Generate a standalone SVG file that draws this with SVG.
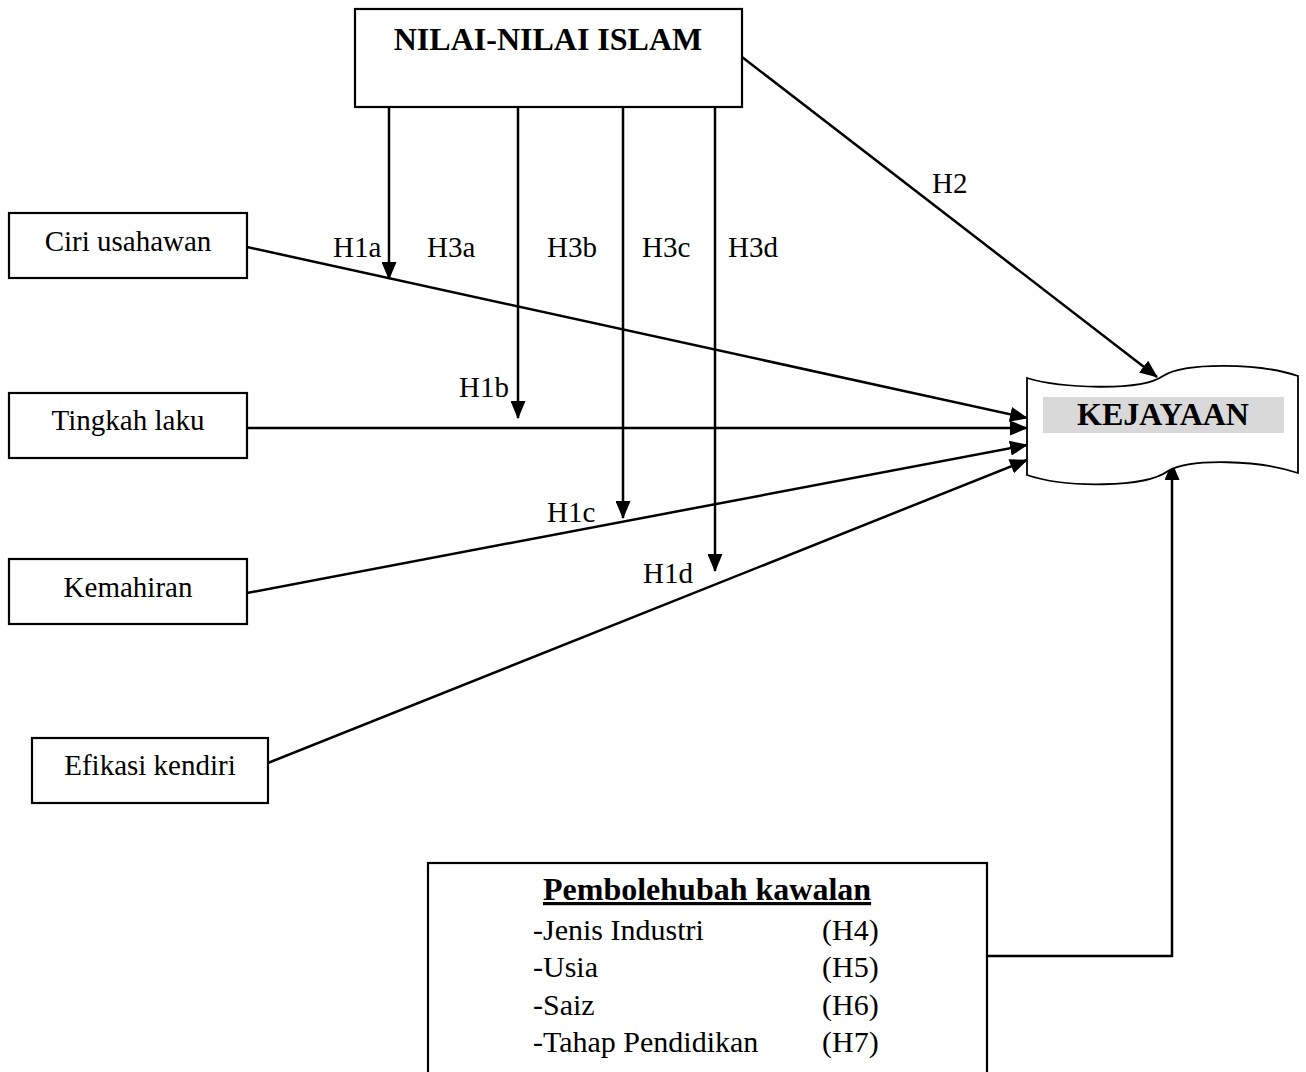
<svg xmlns="http://www.w3.org/2000/svg" width="1306" height="1072" viewBox="0 0 1306 1072">
<style>
.box{fill:#fff;stroke:#000;stroke-width:2.2}
.t{font-family:"Liberation Serif","Times New Roman",serif;font-size:29px;fill:#000}
.b{font-family:"Liberation Serif","Times New Roman",serif;font-size:32px;font-weight:bold;fill:#000}
.l{font-family:"Liberation Serif","Times New Roman",serif;font-size:30px;fill:#000}
.c{fill:none;stroke:#000;stroke-width:2.5}
</style>
<defs>
<marker id="ah" markerWidth="18" markerHeight="15" refX="17" refY="7.5" orient="auto" markerUnits="userSpaceOnUse">
<path d="M0,0 L18,7.5 L0,15 Z" fill="#000"/>
</marker>
</defs>
<rect width="1306" height="1072" fill="#fff"/>
<g id="connectors">
<line class="c" x1="247" y1="247" x2="1027" y2="418" marker-end="url(#ah)"/>
<line class="c" x1="247" y1="428" x2="1027" y2="428" marker-end="url(#ah)"/>
<line class="c" x1="247" y1="593" x2="1027" y2="445" marker-end="url(#ah)"/>
<line class="c" x1="268" y1="763" x2="1027" y2="460" marker-end="url(#ah)"/>
<line class="c" x1="742" y1="57" x2="1157" y2="377" marker-end="url(#ah)"/>
<line class="c" x1="389" y1="107" x2="389" y2="279" marker-end="url(#ah)"/>
<line class="c" x1="518" y1="107" x2="518" y2="418" marker-end="url(#ah)"/>
<line class="c" x1="623" y1="107" x2="623" y2="518" marker-end="url(#ah)"/>
<line class="c" x1="715" y1="107" x2="715" y2="571" marker-end="url(#ah)"/>
<polyline class="c" points="987,956 1172,956 1172,463" marker-end="url(#ah)"/>
<text class="t" x="333" y="257">H1a</text>
<text class="t" x="427" y="257">H3a</text>
<text class="t" x="547" y="257">H3b</text>
<text class="t" x="642" y="257">H3c</text>
<text class="t" x="728" y="257">H3d</text>
<text class="t" x="459" y="397">H1b</text>
<text class="t" x="547" y="522">H1c</text>
<text class="t" x="643" y="583">H1d</text>
<text class="t" x="932" y="193">H2</text>
</g>
<g id="nilai">
<rect class="box" x="355" y="9" width="387" height="98"/>
<text class="b" x="548" y="50" text-anchor="middle">NILAI-NILAI ISLAM</text>
</g>
<g id="ciri">
<rect class="box" x="9" y="213" width="238" height="65"/>
<text class="t" x="128" y="251" text-anchor="middle">Ciri usahawan</text>
</g>
<g id="tingkah">
<rect class="box" x="9" y="393" width="238" height="65"/>
<text class="t" x="128" y="430" text-anchor="middle">Tingkah laku</text>
</g>
<g id="kemahiran">
<rect class="box" x="9" y="559" width="238" height="65"/>
<text class="t" x="128" y="597" text-anchor="middle">Kemahiran</text>
</g>
<g id="efikasi">
<rect class="box" x="32" y="738" width="236" height="65"/>
<text class="t" x="150" y="775" text-anchor="middle">Efikasi kendiri</text>
</g>
<g id="kejayaan">
<path d="M1027,378 C1060,388 1140,392 1163,376 C1185,362 1260,363 1298,376 L1298,473 C1260,460 1190,458 1168,471 C1145,488 1065,488 1027,475 Z" fill="#fff" stroke="#000" stroke-width="1.8"/>
<rect x="1043" y="397" width="241" height="36" fill="#d9d9d9"/>
<text class="b" x="1163" y="425" text-anchor="middle">KEJAYAAN</text>
</g>
<g id="kawalan">
<rect class="box" x="428" y="863" width="559" height="230"/>
<text class="b" x="543" y="900" text-decoration="underline">Pembolehubah kawalan</text>
<text class="l" x="533" y="940">-Jenis Industri</text>
<text class="l" x="822" y="940">(H4)</text>
<text class="l" x="533" y="977">-Usia</text>
<text class="l" x="822" y="977">(H5)</text>
<text class="l" x="533" y="1015">-Saiz</text>
<text class="l" x="822" y="1015">(H6)</text>
<text class="l" x="533" y="1052">-Tahap Pendidikan</text>
<text class="l" x="822" y="1052">(H7)</text>
</g>
</svg>
